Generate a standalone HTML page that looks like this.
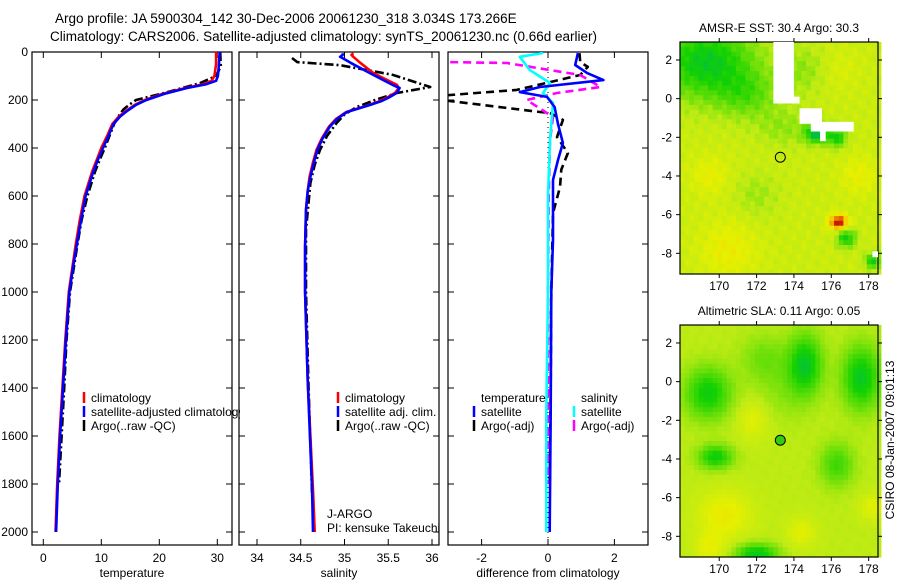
<!DOCTYPE html>
<html><head><meta charset="utf-8"><style>
html,body{margin:0;padding:0;background:#fff;}
svg{display:block;font-family:"Liberation Sans",sans-serif;}
</style></head><body>
<svg id="fig" width="900" height="580" viewBox="0 0 900 580">
<defs>
<clipPath id="c1"><rect x="32" y="52" width="200" height="493"/></clipPath>
<clipPath id="c2"><rect x="239" y="52" width="200" height="493"/></clipPath>
<clipPath id="c3"><rect x="448" y="52" width="200" height="493"/></clipPath>
<clipPath id="cl1"><rect x="32" y="380" width="208" height="60"/></clipPath>
<clipPath id="cl2"><rect x="239" y="500" width="205" height="45"/></clipPath>
</defs>
<g id="root"></g>
</svg>
<script>
// ---- data ----
const depths = [0,50,100,120,135,150,175,200,220,250,270,300,350,400,450,500,600,700,800,900,1000,1200,1400,1600,1800,2000];
const tempClim = [29.8,29.8,29.5,29.0,27.5,24.5,20.5,17.5,15.8,14.0,13.0,11.9,11.0,10.0,9.2,8.4,7.1,6.3,5.6,5.0,4.4,3.8,3.3,2.8,2.4,2.1];
const tempSat  = [30.4,30.3,30.1,29.8,28.0,24.8,20.8,17.8,16.0,14.2,13.2,12.1,11.2,10.3,9.4,8.6,7.3,6.5,5.8,5.1,4.5,3.9,3.4,2.9,2.5,2.2];
const argoDepths = [0,60,100,130,150,170,200,220,240,270,300,350,400,450,500,600,700,800,1000,1200,1400,1800];
const tempArgo = [30.5,30.6,29.8,27.0,24.0,21.0,16.0,14.8,13.8,12.9,12.2,11.4,10.6,9.7,8.9,7.6,6.6,5.9,4.6,4.0,3.6,2.7];
const salDepths = [5,12,20,45,88,137,150,170,187,205,221,250,280,312,360,408,460,521,580,658,812,1000,1367,1825,2000];
const salClim = [35.1,35.08,35.1,35.18,35.33,35.6,35.62,35.58,35.5,35.4,35.28,35.02,34.9,34.82,34.74,34.68,34.64,34.6,34.58,34.56,34.55,34.55,34.58,34.64,34.66];
const salSat  = [34.98,34.98,34.95,35.07,35.29,35.55,35.63,35.6,35.52,35.42,35.29,35.03,34.91,34.83,34.75,34.69,34.65,34.61,34.58,34.56,34.55,34.55,34.58,34.63,34.64];
const salArgoDepths = [25,42,55,95,146,171,200,229,260,296,350,408,470,546,741,1000,1400,1850];
const salArgo = [34.4,34.46,34.95,35.55,35.98,35.6,35.35,35.14,35.0,34.91,34.8,34.72,34.66,34.61,34.56,34.56,34.59,34.63];
const dTsatDepths = [4,54,88,117,146,167,187,229,300,379,450,533,783,1000,1500,2000];
const dTsat = [0.9,0.82,1.18,1.67,-0.24,-0.85,-0.03,0.2,0.3,0.45,0.3,0.15,0.15,0.1,0.08,0.05];
const dSsatDepths = [4,20,75,129,171,212,367,600,1000,1500,2000];
const dSsat = [-0.15,-0.85,-0.55,0.06,-0.15,0.15,0.06,0.0,0.0,-0.05,-0.05];
const dTargoDepths = [5,42,62,96,158,185,200,250,254,283,354,421,490,563,671,1000,1400,1800];
const dTargo = [0.95,0.97,1.2,0.97,-0.94,-3.5,-3.2,-0.24,0.06,0.45,0.27,0.6,0.4,0.36,0.15,0.1,0.08,0.05];
const dSargoDepths = [4,42,46,96,146,171,200,271,367,600,1000,1500,1800];
const dSargo = [-3.2,-3.0,-1.24,0.97,1.58,0.27,-0.64,0.15,0.06,0.02,0.0,0.0,0.0];
const tempTicks = [0,10,20,30];
const salTicks = [34,34.5,35,35.5,36];
const diffTicks = [-2,0,2];
const depthTicks = [0,200,400,600,800,1000,1200,1400,1600,1800,2000];
const lonTicks = [170,172,174,176,178];
const latTicks = [2,0,-2,-4,-6,-8];

// ---- scales ----
const yD = d => 52 + d*0.24;
const xT = t => 43.3 + t*5.8;
const xS = s => 257 + (s-34)*87.5;
const xDf = v => 548 + v*33.2;

const NS='http://www.w3.org/2000/svg';
const root=document.getElementById('root');
function mk(tag,attrs,parent){const e=document.createElementNS(NS,tag);for(const k in attrs)e.setAttribute(k,attrs[k]);(parent||root).appendChild(e);return e;}
function txt(x,y,s,anchor,size,parent){const t=mk('text',{x:x,y:y,'font-size':size||12,'text-anchor':anchor||'start',fill:'#000'},parent);t.textContent=s;return t;}

let t1=txt(55,23,'Argo profile: JA 5900304_142 30-Dec-2006 20061230_318 3.034S 173.266E','start',13.5);


let t2=txt(50,41,'Climatology: CARS2006. Satellite-adjusted climatology: synTS_20061230.nc (0.66d earlier)','start',13.5);



function panel(x0,name,ticks,xf,xlabel,showDepth){
  const g=mk('g',{});
  
  
  mk('rect',{x:x0,y:52,width:200,height:493,fill:'none',stroke:'#000','stroke-width':1.2},g);
  ticks.forEach(v=>{const x=xf(v);
    mk('line',{x1:x,y1:52,x2:x,y2:58,stroke:'#000'},g);
    mk('line',{x1:x,y1:545,x2:x,y2:539,stroke:'#000'},g);
    const l=txt(x,562,String(v),'middle',12,g);
    
    
  });
  depthTicks.forEach(d=>{const y=yD(d);
    mk('line',{x1:x0,y1:y,x2:x0+6,y2:y,stroke:'#000'},g);
    mk('line',{x1:x0+200,y1:y,x2:x0+194,y2:y,stroke:'#000'},g);
    if(showDepth){const l=txt(x0-4,y+4,String(d),'end',12,g);
      
      }
  });
  const xl=txt(x0+100,577,xlabel,'middle',12,g);
  
  
  return g;
}
panel(32,'temperature-panel',tempTicks,xT,'temperature',true);
panel(239,'salinity-panel',salTicks,xS,'salinity',false);
panel(448,'difference-panel',diffTicks,xDf,'difference from climatology',false);

function line(ds,vs,xf,color,dash,clip,name,w){
  const pts=ds.map((d,i)=>xf(vs[i]).toFixed(1)+','+yD(d).toFixed(1)).join(' ');
  const p=mk('polyline',{points:pts,fill:'none',stroke:color,'stroke-width':w||2.6,'stroke-dasharray':dash||'none','clip-path':'url(#'+clip+')','stroke-linejoin':'round'});
  
  
}
mk('line',{x1:xDf(0),y1:52,x2:xDf(0),y2:545,stroke:'#000','stroke-width':1,'stroke-dasharray':'1 4'});
line(argoDepths,tempArgo,xT,'#000','9 3 2 3','c1','temp-argo-line');
line(depths,tempClim,xT,'#f00',null,'c1','temp-climatology-line');
line(depths,tempSat,xT,'#00f',null,'c1','temp-satellite-line');
line(salArgoDepths,salArgo,xS,'#000','9 3 2 3','c2','sal-argo-line');
line(salDepths,salClim,xS,'#f00',null,'c2','sal-climatology-line');
line(salDepths,salSat,xS,'#00f',null,'c2','sal-satellite-line');
line(dTargoDepths,dTargo,xDf,'#000','8 5','c3','diff-temp-argo-line');
line(dSargoDepths,dSargo,xDf,'#f0f','8 5','c3','diff-sal-argo-line');
line(dSsatDepths,dSsat,xDf,'#0ff',null,'c3','diff-sal-satellite-line');
line(dTsatDepths,dTsat,xDf,'#00f',null,'c3','diff-temp-satellite-line');

function legendEntry(x,y,color,label,name,clip){
  const g=mk('g',clip?{'clip-path':'url(#'+clip+')'}:{});
  
  
  if(color) mk('line',{x1:x,y1:y-10,x2:x,y2:y+1,stroke:color,'stroke-width':2.5},g);
  txt(x+7,y,label,'start',12,g);
}
legendEntry(84,402,'#f00','climatology','legend-temp-climatology','cl1');
legendEntry(84,416,'#00f','satellite-adjusted climatology','legend-temp-satellite','cl1');
legendEntry(84,430,'#000','Argo(..raw -QC)','legend-temp-argo','cl1');
legendEntry(338,402,'#f00','climatology','legend-sal-climatology');
legendEntry(338,416,'#00f','satellite adj. clim.','legend-sal-satellite');
legendEntry(338,430,'#000','Argo(..raw -QC)','legend-sal-argo');
legendEntry(474,402,null,'temperature','legend-temp-header');
legendEntry(474,416,'#00f','satellite','legend-diff-temp-satellite');
legendEntry(474,430,'#000','Argo(-adj)','legend-diff-temp-argo');
legendEntry(574,402,null,'salinity','legend-sal-header');
legendEntry(574,416,'#0ff','satellite','legend-diff-sal-satellite');
legendEntry(574,430,'#f0f','Argo(-adj)','legend-diff-sal-argo');
const pi=mk('g',{'clip-path':'url(#cl2)'});


txt(327,518,'J-ARGO','start',12,pi);
txt(327,532,'PI: kensuke Takeuchi','start',12,pi);

// ---- maps ----
const lonMin=167.9, lonMax=178.5;
function mapPanel(top,title,blobs,base,cell,name,circleFill,tex){
  const bottom=top+232, left=680, right=878;
  const xm=lo=>left+(lo-lonMin)/(lonMax-lonMin)*(right-left);
  const ym=la=>top+(2.93-la)/(2.93+9.07)*232;
  const g=mk('g',{});
  
  
  const colr=v=>{
    const stops=[[-1.2,[0,190,70]],[-0.8,[20,210,0]],[-0.3,[120,225,10]],[0,[190,235,20]],[0.4,[230,240,0]],[0.8,[245,210,0]],[1.2,[230,100,0]],[1.6,[190,0,0]]];
    if(v<=stops[0][0])return 'rgb('+stops[0][1]+')';
    for(let i=1;i<stops.length;i++){if(v<=stops[i][0]){const a=stops[i-1],b=stops[i],f=(v-a[0])/(b[0]-a[0]);
      return 'rgb('+a[1].map((c,j)=>Math.round(c+(b[1][j]-c)*f)).join(',')+')';}}
    return 'rgb('+stops[stops.length-1][1]+')';
  };
  for(let lo=lonMin;lo<lonMax;lo+=cell){
    for(let la=2.93;la>-9.07;la-=cell){
      const cx=lo+cell/2, cy=la-cell/2;
      let v=base+tex*Math.sin(cx*7.3+cy*2.1)*Math.cos(cy*5.7-cx*1.3);
      blobs.forEach(b=>{v+=b[3]*Math.exp(-(((cx-b[0])/b[2])**2+((cy-b[1])/(b[4]||b[2]))**2));});
      mk('rect',{x:xm(lo).toFixed(1),y:ym(la).toFixed(1),width:(xm(lo+cell)-xm(lo)+0.6).toFixed(1),height:(ym(la-cell)-ym(la)+0.6).toFixed(1),fill:colr(v)},g);
    }
  }
  mk('rect',{x:left,y:top,width:right-left,height:232,fill:'none',stroke:'#000','stroke-width':1.2},g);
  lonTicks.forEach(lo=>{const x=xm(lo);
    mk('line',{x1:x,y1:top,x2:x,y2:top-4,stroke:'#000'},g);
    mk('line',{x1:x,y1:bottom,x2:x,y2:bottom+4,stroke:'#000'},g);
    txt(x,bottom+16,String(lo),'middle',12,g);});
  latTicks.forEach(la=>{const y=ym(la);
    mk('line',{x1:left,y1:y,x2:left-4,y2:y,stroke:'#000'},g);
    mk('line',{x1:right,y1:y,x2:right+4,y2:y,stroke:'#000'},g);
    txt(left-8,y+4,String(la),'end',12,g);});
  const tt=txt((left+right)/2,top-10,title,'middle',12,g);
  
  
  const c=mk('circle',{cx:xm(173.27),cy:ym(-3.03),r:5,fill:circleFill,stroke:'#000','stroke-width':1},g);
  
  
  return {g,xm,ym};
}
const sstBlobs=[[169.3,1.9,2.6,-1.1,1.9],[171.5,0.2,1.6,-0.5,1.2],[173.5,-1.5,1.5,-0.3,1.0],[175.2,-1.8,0.6,-1.3,0.5],[176.3,-2.0,0.5,-1.0],[176.4,-6.4,0.5,1.5,0.4],[176.8,-7.2,0.5,-1.0],[170.5,-7.8,1.5,0.35],[172,-5,1.2,-0.25],[174.5,1.5,1.2,-0.3],[177.5,-4,1,0.3],[176.5,1.5,1,0.15],[178.2,-8.4,0.4,-1.0],[169.5,-4,1,0.3]];
const sst=mapPanel(42,'AMSR-E SST: 30.4  Argo: 30.3',sstBlobs,0.12,0.25,'sst-map','none',0.12);
[[172.9,2.93,1.1,3.0],[172.9,0.1,1.4,0.35],[174.3,-0.5,1.2,0.8],[174.9,-1.2,2.3,0.5],[175.4,-1.4,0.3,0.8],[178.2,-7.9,0.3,0.3]].forEach(p=>{
  const r=mk('rect',{x:sst.xm(p[0]),y:sst.ym(p[1]),width:sst.xm(p[0]+p[2])-sst.xm(p[0]),height:sst.ym(p[1]-p[3])-sst.ym(p[1]),fill:'#fff'},sst.g);
  
  
});
const slaBlobs=[[169.4,-0.6,1.2,-0.9,1.3],[174.6,0.9,0.9,-1.0,1.5],[177.6,0.2,1.0,-1.0,1.6],[169.8,-3.9,0.9,-0.9,0.6],[176.3,-4.3,0.9,-0.6,1.1],[172,-8.9,1.1,-1.0,0.5],[170.3,-6.9,1.4,0.5,1.2],[171.8,-2.0,0.8,0.35,1.0],[174.4,-7.8,0.8,0.35],[178.2,-6.5,0.7,0.35],[172.4,1.2,1.2,-0.35],[173.5,-0.5,1.5,-0.2],[169.5,-8.6,0.8,0.4]];
const sla=mapPanel(325,'Altimetric SLA: 0.11  Argo: 0.05',slaBlobs,0.0,0.25,'sla-map','#33cc11',0.03);
const ts=txt(0,0,'CSIRO 08-Jan-2007 09:01:13','middle',12);
ts.setAttribute('transform','translate(894,440) rotate(-90)');


</script>
</body></html>
